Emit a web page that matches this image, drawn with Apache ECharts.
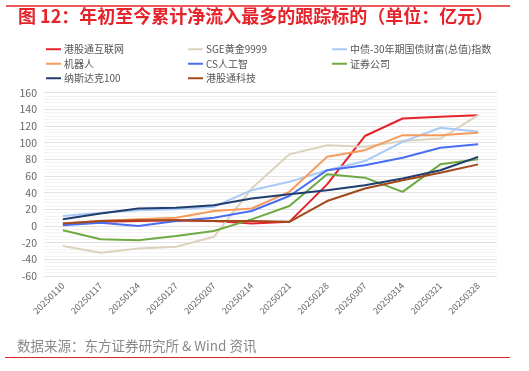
<!DOCTYPE html>
<html><head><meta charset="utf-8">
<script src="https://cdn.jsdelivr.net/npm/echarts@6/dist/echarts.min.js"></script>
<style>html,body{margin:0;padding:0;background:#fff}#c{width:529px;height:371px}</style>
</head><body><div id="c"></div>
<script>
const categories = ['20250110','20250117','20250124','20250127','20250207','20250214','20250221','20250228','20250307','20250314','20250321','20250328'];
const names = ['港股通互联网','SGE黄金9999','中债-30年期国债财富(总值)指数','机器人','CS人工智','证券公司','纳斯达克100','港股通科技'];
const hkInternet = [2, 5, 6, 7, 6, 3, 5, 50, 108, 129, 131, 133];
const sgeGold = [-24, -32, -27, -25, -13, 45, 86, 97, 95, 102, 105, 133];
const bond30 = [12, 16, 19, 20, 23, 43, 53, 67, 78, 101, 118, 113];
const robot = [3, 6, 8, 10, 18, 21, 41, 83, 91, 109, 109, 112];
const csAI = [1, 4, 0, 6, 10, 18, 36, 67, 73, 82, 94, 98];
const securities = [-5, -16, -17, -12, -6, 8, 24, 62, 58, 41, 74, 80];
const nasdaq100 = [8, 15, 21, 22, 25, 33, 38, 43, 49, 57, 67, 83];
const hkTech = [3, 6, 7, 7, 6, 6, 5, 30, 45, 55, 64, 74];
const yTicks = {min: -60, max: 160, interval: 20};

const seriesData = [hkInternet, sgeGold, bond30, robot, csAI, securities, nasdaq100, hkTech];
const colors = ['#e5232a', '#ddd2bd', '#a9c9f7', '#f79b5c', '#4a6ef2', '#6eaa42', '#1f3d6e', '#a2481a'];

const chart = echarts.init(document.getElementById('c'));
const font = '"Noto Sans CJK SC", "Noto Sans", sans-serif';
const legendCol = (data, left) => ({
  data: data, left: left, top: 42, orient: 'vertical', itemGap: 0,
  icon: 'rect', itemWidth: 15, itemHeight: 2,
  textStyle: {fontSize: 10, color: '#555', fontFamily: font, lineHeight: 14.5, padding: [0,0,0,-2]},
  padding: 0
});
chart.setOption({
  animation: false,
  backgroundColor: '#fff',
  color: colors,
  textStyle: {fontFamily: font},
  legend: [
    legendCol([names[0], names[3], names[6]], 46),
    legendCol([names[1], names[4], names[7]], 188),
    legendCol([names[2], names[5]], 332)
  ],
  grid: {left: 44, right: 32, top: 92.7, bottom: 95, containLabel: false},
  xAxis: {
    type: 'category', data: categories, boundaryGap: true,
    axisLine: {show: false}, axisTick: {show: false},
    axisLabel: {rotate: 45, fontSize: 9, color: '#666', margin: 8, interval: 0}
  },
  yAxis: {
    type: 'value', min: yTicks.min, max: yTicks.max, interval: yTicks.interval,
    axisLine: {show: false}, axisTick: {show: false},
    axisLabel: {fontSize: 10.5, color: '#666', margin: 7},
    splitLine: {lineStyle: {color: '#e3e3e3', width: 1}},
    minorTick: {show: false, splitNumber: 5},
    minorSplitLine: {show: true, lineStyle: {color: '#f3f3f3', width: 1}}
  },
  series: seriesData.map((d, i) => ({
    name: names[i], type: 'line', data: d, showSymbol: false, symbol: 'none',
    lineStyle: {width: 2, color: colors[i]}, itemStyle: {color: colors[i]}
  })),
  graphic: [
    {type: 'line', shape: {x1: 6, y1: 6, x2: 510, y2: 6}, style: {stroke: '#e5232a', lineWidth: 1.5}},
    {type: 'text', left: 18, top: 7.5, style: {text: '图 12：年初至今累计净流入最多的跟踪标的（单位：亿元）', fill: '#e5232a', font: 'bold 18px "Noto Sans CJK SC", sans-serif'}},
    {type: 'text', left: 17, top: 339, style: {text: '数据来源：东方证券研究所 & Wind 资讯', fill: '#888', font: '13.5px "Noto Sans CJK SC", sans-serif'}},
    {type: 'line', shape: {x1: 5, y1: 357.5, x2: 510, y2: 357.5}, style: {stroke: '#e5232a', lineWidth: 1.2}}
  ]
});
</script></body></html>
